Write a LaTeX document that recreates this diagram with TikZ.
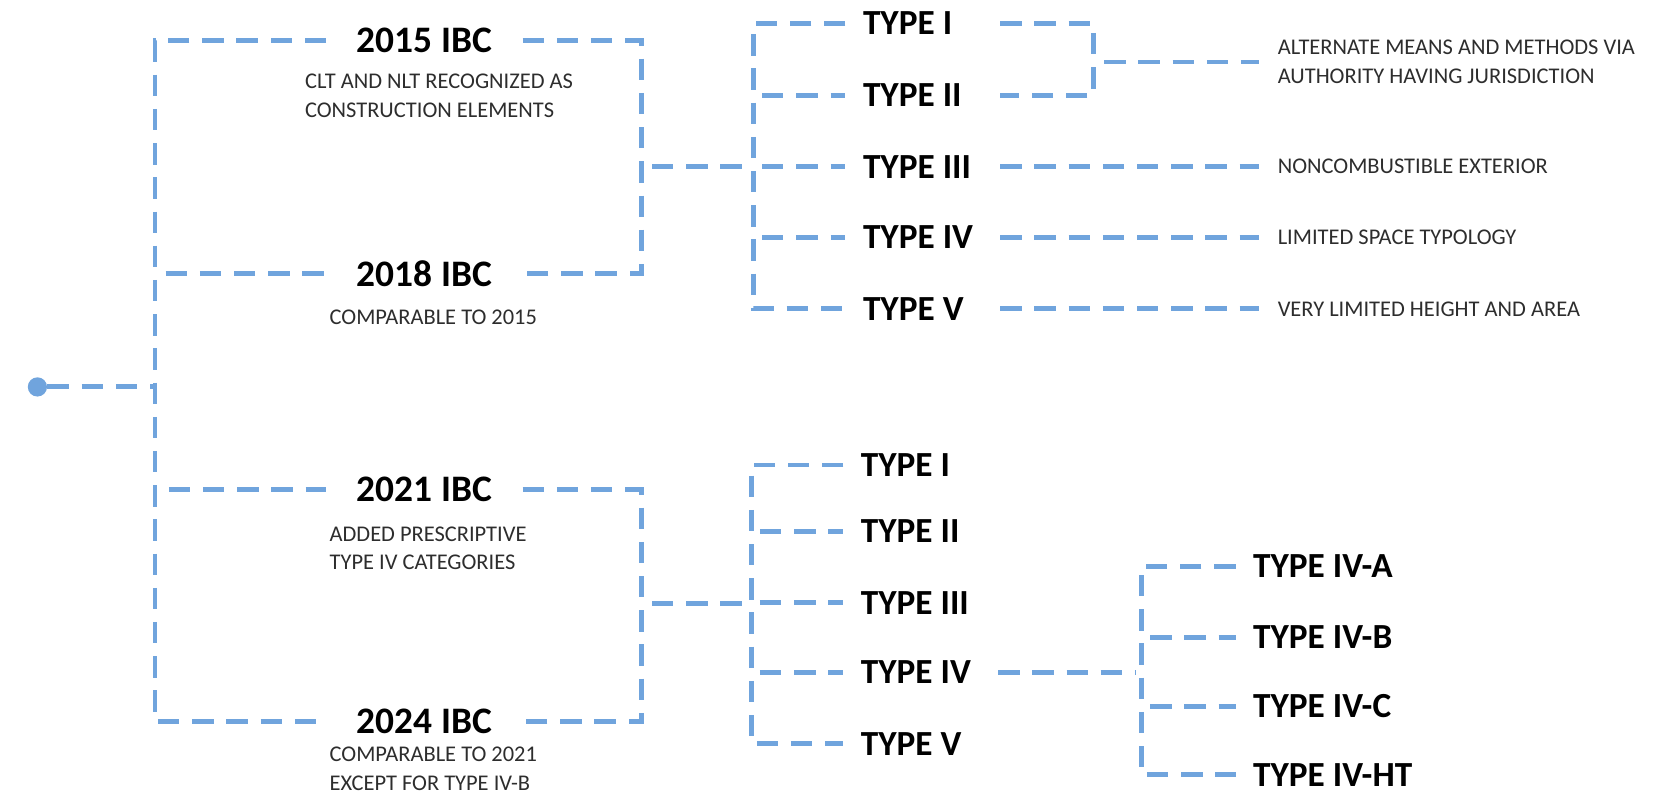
\documentclass[tikz,border=0pt]{standalone}
\usepackage{fontspec}
\setmainfont{Carlito}
\definecolor{lnblue}{RGB}{112,164,221}
\definecolor{txtgray}{RGB}{45,45,45}
\begin{document}
\begin{tikzpicture}[x=0.5pt,y=-0.5pt,
  dl/.style={draw=lnblue,line width=2.3pt,dash pattern=on 10pt off 6pt},
  ibc/.style={font=\bfseries\fontsize{17.5}{20}\selectfont,minimum width=91.5pt,inner sep=0pt,text=black},
  typ/.style={font=\bfseries\fontsize{16.5}{19}\selectfont,anchor=west,text width=56pt,inner xsep=8pt,inner ysep=0pt,align=flush left,text=black},
  styp/.style={font=\bfseries\fontsize{16.5}{19}\selectfont,anchor=west,inner xsep=8pt,inner ysep=0pt,text=black},
  sub/.style={font=\fontsize{10.5}{13.5}\selectfont,text=txtgray,anchor=west,align=flush left,inner sep=0pt},
  desc/.style={sub,inner xsep=8.5pt}]
\useasboundingbox (0,0) rectangle (1568,746);

% start dot and main spine
\node[circle,fill=lnblue,inner sep=0pt,minimum size=9pt] (dot) at (35,362) {};
\coordinate (mtop) at (145,38);
\coordinate (mmid) at (145,362);
\coordinate (mbot) at (145,675);
\coordinate (m18) at (155,256);
\coordinate (m21) at (158,458);

% code editions
\node[ibc] (i15) at (397,38) {2015 IBC};
\node[ibc] (i18) at (397,256) {2018 IBC};
\node[ibc] (i21) at (397,458) {2021 IBC};
\node[ibc] (i24) at (397,675) {2024 IBC};

\node[sub] (s15) at (285,90) {CLT AND NLT RECOGNIZED AS\\CONSTRUCTION ELEMENTS};
\node[sub] (s18) at (308,297) {COMPARABLE TO 2015};
\node[sub] (s21) at (308,513) {ADDED PRESCRIPTIVE\\TYPE IV CATEGORIES};
\node[sub] (s24) at (308,719) {COMPARABLE TO 2021\\EXCEPT FOR TYPE IV-B};

\draw[dl] (dot) -- (mmid);
\draw[dl] (i15.west) -- (mtop) -- (mbot) -- (i24.west);
\draw[dl] (m18) -- (i18.west);
\draw[dl] (m21) -- (i21.west);

\coordinate (r1t) at (600,38);
\coordinate (r1b) at (600,256);
\coordinate (r1m) at (610,156);
\coordinate (r2t) at (600,458);
\coordinate (r2b) at (600,675);
\coordinate (r2m) at (610,565);
\draw[dl] (i15.east) -- (r1t) -- (r1b) -- (i18.east);
\draw[dl] (i21.east) -- (r2t) -- (r2b) -- (i24.east);

% upper construction types
\node[typ] (a1) at (791,22) {TYPE I};
\node[typ] (a2) at (791,89) {TYPE II};
\node[typ] (a3) at (791,156) {TYPE III};
\node[typ] (a4) at (791,222) {TYPE IV};
\node[typ] (a5) at (791,289) {TYPE V};
\coordinate (ut) at (705,22);
\coordinate (ub) at (705,289);
\coordinate (uj) at (700,156);
\coordinate (u2) at (713,89);
\coordinate (u3) at (713,156);
\coordinate (u4) at (713,222);
\draw[dl] (a1.west) -- (ut) -- (ub) -- (a5.west);
\draw[dl] (u2) -- (a2.west);
\draw[dl] (u3) -- (a3.west);
\draw[dl] (u4) -- (a4.west);
\draw[dl] (r1m) -- (uj);

% descriptions
\node[desc] (d1) at (1178,58) {ALTERNATE MEANS AND METHODS VIA\\AUTHORITY HAVING JURISDICTION};
\node[desc] (d3) at (1178,156) {NONCOMBUSTIBLE EXTERIOR};
\node[desc] (d4) at (1178,222) {LIMITED SPACE TYPOLOGY};
\node[desc] (d5) at (1178,289) {VERY LIMITED HEIGHT AND AREA};
\coordinate (rt1) at (1023,22);
\coordinate (rt2) at (1023,89);
\coordinate (rtm) at (1033,58);
\draw[dl] (a1.east) -- (rt1) -- (rt2) -- (a2.east);
\draw[dl] (rtm) -- (d1.west);
\draw[dl] (a3.east) -- (d3.west);
\draw[dl] (a4.east) -- (d4.west);
\draw[dl] (a5.east) -- (d5.west);

% lower construction types
\node[typ] (b1) at (789,435) {TYPE I};
\node[typ] (b2) at (789,497) {TYPE II};
\node[typ] (b3) at (789,564) {TYPE III};
\node[typ] (b4) at (789,629) {TYPE IV};
\node[typ] (b5) at (789,696) {TYPE V};
\coordinate (lt) at (703,435);
\coordinate (lb) at (703,696);
\coordinate (lj) at (698,565);
\coordinate (l2) at (711,497);
\coordinate (l3) at (711,564);
\coordinate (l4) at (711,629);
\draw[dl] (b1.west) -- (lt) -- (lb) -- (b5.west);
\draw[dl] (l2) -- (b2.west);
\draw[dl] (l3) -- (b3.west);
\draw[dl] (l4) -- (b4.west);
\draw[dl] (r2m) -- (lj);

% type IV sub-categories
\node[styp] (c1) at (1156,530) {TYPE IV-A};
\node[styp] (c2) at (1156,596) {TYPE IV-B};
\node[styp] (c3) at (1156,661) {TYPE IV-C};
\node[styp] (c4) at (1156,725) {TYPE IV-HT};
\coordinate (ct) at (1068,530);
\coordinate (cb) at (1068,725);
\coordinate (cj) at (1063,629);
\coordinate (c2l) at (1076,596);
\coordinate (c3l) at (1076,661);
\draw[dl] (c1.west) -- (ct) -- (cb) -- (c4.west);
\draw[dl] (c2l) -- (c2.west);
\draw[dl] (c3l) -- (c3.west);
\draw[dl] (b4.east) -- (cj);
\end{tikzpicture}
\end{document}
